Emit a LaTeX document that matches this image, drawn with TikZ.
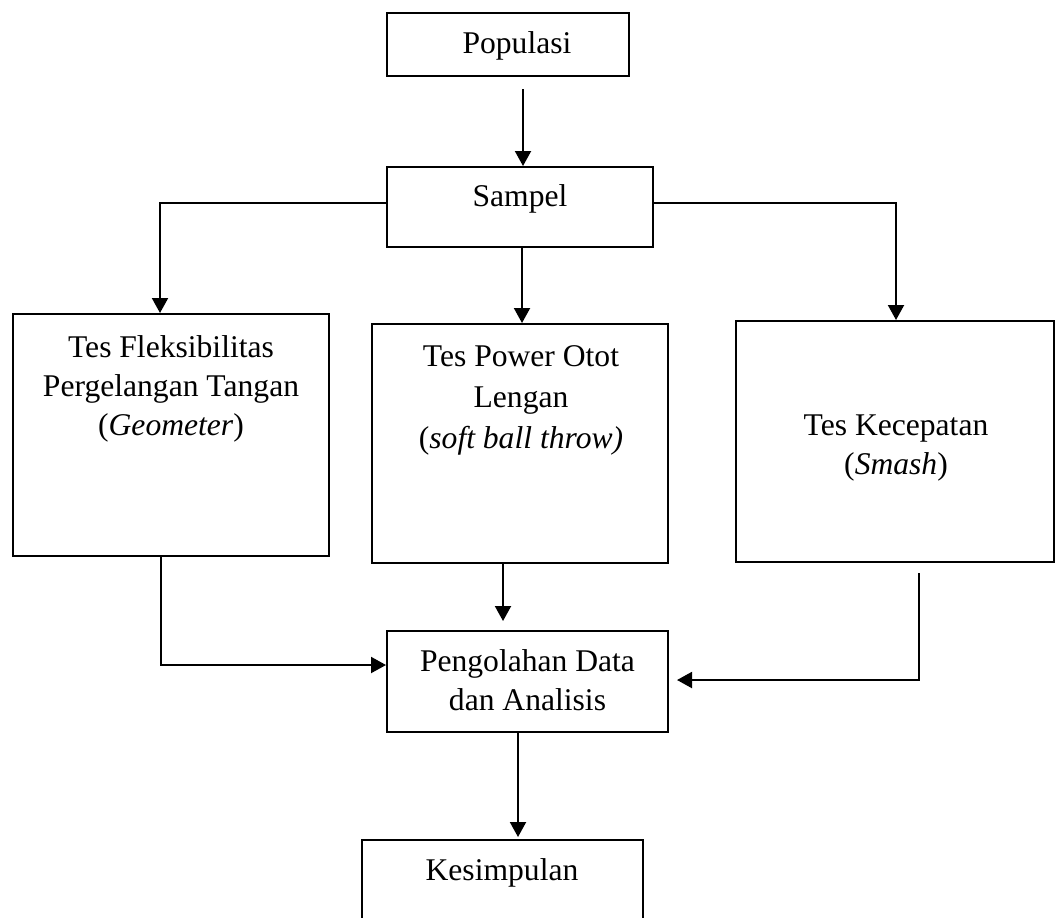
\documentclass[tikz,border=0pt]{standalone}
\usepackage{fontspec}
\setmainfont{Liberation Serif}
\usetikzlibrary{calc,arrows.meta}
\begin{document}
\begin{tikzpicture}[x=0.5pt,y=-0.5pt,
  box/.style={draw,line width=1pt,inner sep=0pt,rectangle},
  txt/.style={inner sep=0pt,align=center,anchor=base,font=\fontsize{15.8pt}{19.5pt}\selectfont},
  arr/.style={line width=1pt,-{Triangle[width=8pt,length=7.5pt]}},
  ln/.style={line width=1pt}]
\useasboundingbox (0,0) rectangle (1059,917);
\clip (0,0) rectangle (1059,917);
% boxes
\node[box,minimum width=121pt,minimum height=31.5pt] (pop) at (508,44.5) {};
\node[box,minimum width=133pt,minimum height=40pt] (samp) at (520,207) {};
\node[box,minimum width=158pt,minimum height=121pt] (fleks) at (171,435) {};
\node[box,minimum width=148pt,minimum height=119.5pt] (power) at (520,443.5) {};
\node[box,minimum width=159pt,minimum height=120.5pt] (kec) at (895,441.5) {};
\node[box,minimum width=140.5pt,minimum height=50.5pt] (olah) at (527.5,681.5) {};
\node[box,minimum width=140.5pt,minimum height=60pt] (kes) at (502.5,900) {};
% texts (base anchor = baseline of last line)
\node[txt] (tpop) at (517,53) {Populasi};
\node[txt] (tsamp) at (520,206) {Sampel};
\node[txt] (tfleks) at (171,435) {Tes Fleksibilitas\\Pergelangan Tangan\\(\textit{Geometer})};
\node[txt,font=\fontsize{15.8pt}{20.5pt}\selectfont] (tpower) at (521,448) {Tes Power Otot\\Lengan\\(\textit{soft ball throw)}};
\node[txt] (tkec) at (896,474) {Tes Kecepatan\\(\textit{Smash})};
\node[txt] (tolah) at (527.5,710) {Pengolahan Data\\dan Analisis};
\node[txt] (tkes) at (502,880) {Kesimpulan};
% connectors
\coordinate (a1) at (523,89);
\draw[arr] (a1) -- (a1 |- samp.north);
\draw[arr] ($(samp.west)+(0,-4)$) -| ($(fleks.north)+(-11,0)$);
\draw[arr] ($(samp.east)+(0,-4)$) -| ($(kec.north)+(1,0)$);
\draw[arr] ($(samp.south)+(2,0)$) -- ($(power.north)+(2,0)$);
\draw[arr] ($(fleks.south)+(-10,0)$) |- ($(olah.west)+(0,-16.5)$);
\draw[arr] ($(power.south)+(-17,0)$) -- ($(olah.north)+(-24.5,-9)$);
\draw[arr] ($(kec.south)+(24,10)$) |- ($(olah.east)+(8,-1.5)$);
\draw[arr] ($(olah.south)+(-9.5,0)$) -- ($(kes.north)+(15.5,-2)$);
\end{tikzpicture}
\end{document}
